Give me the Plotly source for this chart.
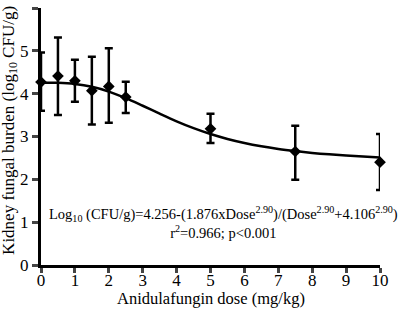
import plotly.graph_objects as go

dose = [0, 0.5, 1, 1.5, 2, 2.5, 5, 7.5, 10]
burden = [4.27, 4.41, 4.30, 4.07, 4.17, 3.92, 3.18, 2.65, 2.40]
err_plus = [0.69, 0.90, 0.49, 0.79, 0.89, 0.36, 0.35, 0.60, 0.66]
err_minus = [0.67, 0.91, 0.49, 0.79, 0.85, 0.37, 0.33, 0.66, 0.65]

fit_dose = [0, 0.5, 1, 1.5, 2, 2.5, 3, 3.5, 4, 4.5, 5, 5.5, 6, 6.5, 7, 7.5, 8, 8.5, 9, 9.5, 10]
fit_burden = [4.256, 4.252, 4.225, 4.160, 4.049, 3.896, 3.718, 3.532, 3.354, 3.194, 3.057,
              2.943, 2.849, 2.772, 2.709, 2.659, 2.617, 2.583, 2.555, 2.531, 2.511]

x_ticks = [0, 1, 2, 3, 4, 5, 6, 7, 8, 9, 10]
y_ticks = [0, 1, 2, 3, 4, 5, 6]

x_title = "Anidulafungin dose (mg/kg)"
y_title = "Kidney fungal burden (log<sub>10</sub> CFU/g)"
fit_text = ("Log<sub>10</sub> (CFU/g)=4.256-(1.876xDose<sup>2.90</sup>)/(Dose<sup>2.90</sup>+4.106<sup>2.90</sup>)"
            "<br>r<sup>2</sup>=0.966; p<0.001")

font = "Liberation Serif, Times New Roman, serif"

fig = go.Figure()
fig.add_trace(go.Scatter(x=fit_dose, y=fit_burden, mode="lines", line=dict(color="black", width=2.5, shape="spline"),
                         hoverinfo="skip", cliponaxis=False))
fig.add_trace(go.Scatter(
    x=dose, y=burden, mode="markers",
    marker=dict(symbol="diamond", size=9, color="black"),
    error_y=dict(type="data", symmetric=False, array=err_plus, arrayminus=err_minus,
                 color="black", thickness=2.5, width=4),
    cliponaxis=False))

fig.add_annotation(x=0.537, y=0.165, xref="x domain", yref="paper", text=fit_text,
                   showarrow=False, font=dict(family=font, size=14.5, color="black"), align="center",
                   xanchor="center", yanchor="middle")
fig.add_annotation(x=0.5, y=-0.13, xref="x domain", yref="paper", text=x_title,
                   showarrow=False, font=dict(family=font, size=16.5, color="black"),
                   xanchor="center", yanchor="middle")
fig.add_annotation(x=-0.092, y=0.525, xref="paper", yref="paper", text=y_title, textangle=-90,
                   showarrow=False, font=dict(family=font, size=17, color="black"),
                   xanchor="center", yanchor="middle")

fig.update_layout(
    width=400, height=312, margin=dict(l=41, r=20, t=8, b=47, autoexpand=False),
    paper_bgcolor="white", plot_bgcolor="white", showlegend=False,
    font=dict(family=font, color="black"),
    xaxis=dict(range=[0, 10], tickvals=x_ticks, showgrid=False, zeroline=False, automargin=False,
               showline=True, linecolor="black", linewidth=3, ticks="outside", ticklen=5, tickwidth=2.5,
               tickfont=dict(family=font, size=17), ticklabelstandoff=-7),
    yaxis=dict(range=[0, 6], tickvals=y_ticks, showgrid=False, zeroline=False, automargin=False,
               showline=True, linecolor="black", linewidth=3, ticks="outside", ticklen=6, tickwidth=2.5,
               tickfont=dict(family=font, size=17)),
)
fig.write_html("out.html", config={"displayModeBar": False},
               post_script="document.body.style.margin='0px';document.body.style.overflow='hidden';")
